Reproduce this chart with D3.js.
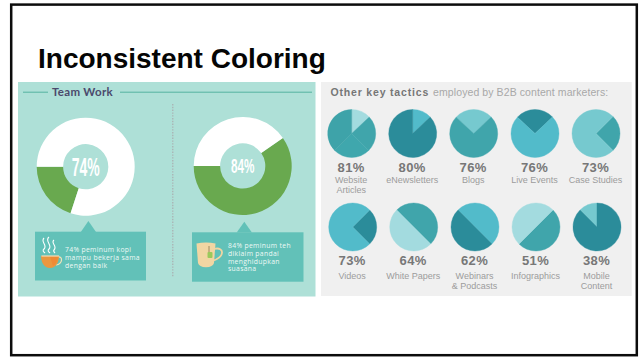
<!DOCTYPE html>
<html>
<head>
<meta charset="utf-8">
<script src="https://cdn.jsdelivr.net/npm/d3@7/dist/d3.min.js"></script>
<style>
html,body{margin:0;padding:0;background:#fff}
svg{display:block}
</style>
</head>
<body>
<svg id="slide" width="639" height="358"></svg>
<script>
// Slide copy
const slideTitle = "Inconsistent Coloring";
const teamHeading = "Team Work";
const tacticsHeadBold = "Other key tactics";
const tacticsHeadPlain = "employed by B2B content marketers:";

// Team Work donuts. The arcs in this infographic are illustrative: the green share
// is the drawn proportion of the ring, which differs from the printed percentage.
const donutLabels = ["74%", "84%"];
const donutGreenShare = [20, 59.7];
const calloutLines = [
  ["74% peminum kopi", "mampu bekerja sama", "dengan baik"],
  ["84% peminum teh", "diklaim pandai", "menghidupkan", "suasana"]
];

// B2B tactics. Same caveat: wedges are the drawn shares of each disc, by tone.
const tacticPercents = [81, 80, 76, 76, 73, 73, 64, 62, 51, 38];
const tacticNames = [
  ["Website", "Articles"], ["eNewsletters"], ["Blogs"], ["Live Events"], ["Case Studies"],
  ["Videos"], ["White Papers"], ["Webinars", "& Podcasts"], ["Infographics"], ["Mobile", "Content"]
];
const tacticWedgeStart = [0, 0, -47, -47, 45, 45, -45, -45, 45, -45];
const tacticWedgeShares = [
  [13, 24.5, 25, 37.5], [13, 87], [26, 74], [26, 74], [25, 75],
  [25, 75], [50, 50], [50, 50], [50, 50], [12.5, 87.5]
];
const tacticWedgeTones = [
  ["pale", "mid", "mid2", "mid3"], ["sky", "deep"], ["soft", "mid"], ["deep", "sky"], ["mid", "soft"],
  ["deep", "sky"], ["mid", "pale"], ["sky", "deep"], ["mid", "pale"], ["soft", "deep"]
];

const tone = {
  pale: "#a3dbdf", soft: "#76c9cf", mid: "#40a5ab", mid2: "#3fa7ad", mid3: "#3ea3a9",
  sky: "#52bbca", deep: "#2b8c9a"
};
const sans = "'Liberation Sans', Arial, sans-serif";
const svg = d3.select("#slide");
const deg = d3.scaleLinear().domain([0, 360]).range([0, 2 * Math.PI]);

// Slide frame and heading
svg.append("rect").attr("x", 11.2).attr("y", 4.6).attr("width", 625.6).attr("height", 350.6)
  .attr("fill", "#fff").attr("stroke", "#0c0c0c").attr("stroke-width", 2.5);
svg.append("text").attr("x", 38).attr("y", 67.5).attr("font-family", sans)
  .attr("font-weight", 700).attr("font-size", 28).attr("fill", "#050505").text(slideTitle);

// ---- Team Work panel ----
const left = svg.append("g");
left.append("rect").attr("x", 18).attr("y", 82).attr("width", 297.5).attr("height", 214.5).attr("fill", "#aee0d7");
left.selectAll("line.rule").data([[23, 48], [120, 312]]).join("line").attr("class", "rule")
  .attr("x1", d => d[0]).attr("x2", d => d[1]).attr("y1", 92.2).attr("y2", 92.2)
  .attr("stroke", "#55b3a0").attr("stroke-width", 1);
left.append("text").attr("x", 52).attr("y", 96.3).attr("font-family", "Lato, sans-serif")
  .attr("font-weight", 700).attr("font-size", 11.5).attr("letter-spacing", 0.3).attr("fill", "#4b4a6c").text(teamHeading);
left.append("line").attr("x1", 172.8).attr("x2", 172.8).attr("y1", 104).attr("y2", 277.5)
  .attr("stroke", "#a9a9ad").attr("stroke-width", 1.1).attr("stroke-dasharray", "1.4 1.4");

const donutCenters = [[85.7, 166.7], [242.7, 166]];
const donutFonts = [[25, 28], [20.5, 23.5]];
const ringArc = d3.arc().innerRadius(22.6).outerRadius(49);
donutLabels.forEach((label, i) => {
  const g = left.append("g").attr("transform", `translate(${donutCenters[i]})`);
  // The green segment always ends at nine o'clock; its share runs back from there.
  const greenStart = 270 - donutGreenShare[i] * 3.6;
  const slices = d3.pie().sort(null).startAngle(deg(greenStart)).endAngle(deg(greenStart + 360))
    ([donutGreenShare[i], 100 - donutGreenShare[i]]);
  g.selectAll("path").data(slices).join("path").attr("d", ringArc)
    .attr("fill", (d, j) => j === 0 ? "#69a94f" : "#ffffff");
  g.append("text").attr("text-anchor", "middle").attr("y", donutFonts[i][0] * 0.36)
    .attr("font-family", "'Liberation Sans Narrow', 'Liberation Sans', sans-serif").attr("font-weight", 700)
    .attr("font-size", donutFonts[i][0]).attr("fill", "#fff")
    .attr("textLength", donutFonts[i][1]).attr("lengthAdjust", "spacingAndGlyphs").text(label);
});

// Callout boxes under the donuts
const calloutBoxes = [
  { x: 35, y: 231.7, w: 111, h: 48.8, tip: 88.4, apex: 221, tx: 65, ty: 252.2 },
  { x: 192, y: 232.3, w: 111.5, h: 49.4, tip: 244.3, apex: 221.7, tx: 228, ty: 248.2 }
];
calloutBoxes.forEach((b, i) => {
  left.append("rect").attr("x", b.x).attr("y", b.y).attr("width", b.w).attr("height", b.h).attr("fill", "#62c1b8");
  left.append("path").attr("d", d3.line()([[b.tip - 7.6, b.y + 0.2], [b.tip, b.apex], [b.tip + 7.6, b.y + 0.2]]) + "Z").attr("fill", "#62c1b8");
  left.append("g").selectAll("text").data(calloutLines[i]).join("text")
    .attr("x", b.tx).attr("y", (d, j) => b.ty + j * 7.65)
    .attr("font-family", "'Open Sans', sans-serif").attr("font-size", 6.8).attr("letter-spacing", 0.33)
    .attr("fill", "#eef9f6").text(d => d);
});

// Coffee cup with steam
const coffee = left.append("g").attr("transform", "translate(50,0)");
["M-6,238 C-10,242 -2,245 -6,249 C-8,251 -6,252 -5,253", "M-1,237 C-6,241 3,245 -1,249 C-3,251 -1,252 0,253", "M4,240 C0,243 8,246 4,250 C3,251 4,252 5,253"]
  .forEach(p => coffee.append("path").attr("d", p).attr("fill", "none").attr("stroke", "#fff").attr("stroke-width", 1.1));
coffee.append("path").attr("d", "M8,257 C13,256 13,264 6,265").attr("fill", "none").attr("stroke", "#f3e2b9").attr("stroke-width", 1.2);
coffee.append("path").attr("d", "M-9,255.7 H9 C9,262 6,268 0,268 C-6,268 -9,262 -9,255.7 Z").attr("fill", "#e9973f");
coffee.append("path").attr("d", "M0,256.5 H8 C8,260 6,264 3,266 Z").attr("fill", "#ef8a35");
coffee.append("path").attr("d", "M-8.5,256 H9").attr("stroke", "#f5ecd0").attr("stroke-width", 1);

// Tea mug with the bag's tag hanging over the rim
const mug = left.append("g");
mug.append("path").attr("d", "M214,249 C225,246 225,258 212,261").attr("fill", "none").attr("stroke", "#f1d5a2").attr("stroke-width", 1.8);
mug.append("path").attr("d", "M196.5,243.5 Q206,241.5 215.5,243.5 L214,263 Q213,267 206,267.3 Q199,267 198,263 Z").attr("fill", "#f2d6a3");
mug.append("line").attr("x1", 209).attr("x2", 209).attr("y1", 246).attr("y2", 252.5).attr("stroke", "#8c7a4e").attr("stroke-width", 0.8);
mug.append("rect").attr("x", 207.5).attr("y", 252).attr("width", 5).attr("height", 6).attr("rx", 1).attr("fill", "#9bc95c");

// ---- B2B tactics panel ----
const right = svg.append("g");
right.append("rect").attr("x", 321).attr("y", 82).attr("width", 310.7).attr("height", 214).attr("fill", "#f0f0f0");
const head = right.append("text").attr("x", 330.5).attr("y", 96).attr("font-family", sans).attr("font-size", 10.5);
head.append("tspan").attr("font-weight", 700).attr("fill", "#767676").attr("letter-spacing", 0.82).text(tacticsHeadBold);
head.append("tspan").attr("dx", 4).attr("fill", "#a8a8a8").attr("letter-spacing", 0.09).text(tacticsHeadPlain);

const pieColumns = [[351.7, 412.7, 473.7, 535, 596], [352.7, 413.7, 475, 536, 597]];
const pieRows = [133.5, 227];
const pctBaseline = [172, 265];
const nameBaseline = [182.7, 278.7];
const discArc = d3.arc().innerRadius(0).outerRadius(24);
tacticPercents.forEach((pct, i) => {
  const row = i < 5 ? 0 : 1;
  const cx = pieColumns[row][i % 5];
  const g = right.append("g").attr("transform", `translate(${cx},${pieRows[row]})`);
  const a0 = tacticWedgeStart[i];
  const slices = d3.pie().sort(null).startAngle(deg(a0)).endAngle(deg(a0 + 360))(tacticWedgeShares[i]);
  // A hairline in each wedge's own tone closes the anti-aliased seams between wedges.
  g.selectAll("path").data(slices).join("path").attr("d", discArc)
    .attr("fill", (d, j) => tone[tacticWedgeTones[i][j]])
    .attr("stroke", (d, j) => tone[tacticWedgeTones[i][j]]).attr("stroke-width", 0.4);
  right.append("text").attr("x", cx - 0.5).attr("y", pctBaseline[row]).attr("text-anchor", "middle")
    .attr("font-family", sans).attr("font-weight", 700).attr("font-size", 13).attr("letter-spacing", 0.4)
    .attr("fill", "#777").text(pct + "%");
  right.append("g").selectAll("text").data(tacticNames[i]).join("text")
    .attr("x", cx - 0.5).attr("y", (d, j) => nameBaseline[row] + j * 10).attr("text-anchor", "middle")
    .attr("font-family", sans).attr("font-size", 9).attr("letter-spacing", 0)
    .attr("fill", "#9c9c9c").text(d => d);
});
</script>
</body>
</html>
